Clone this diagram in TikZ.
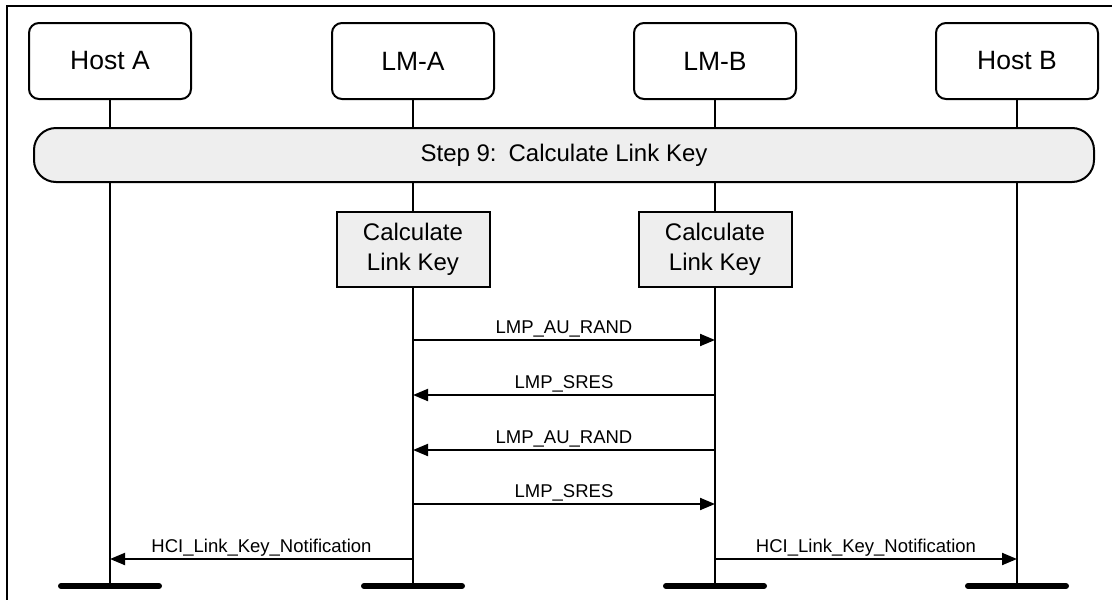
\documentclass[tikz,border=0pt]{standalone}
\usepackage{fontspec}
\setmainfont{Liberation Sans}
\usetikzlibrary{arrows.meta}
\definecolor{boxgray}{HTML}{EEEEEE}
\begin{document}
\begin{tikzpicture}[x=1pt,y=-1pt,line width=2pt,
  actor/.style={draw,rounded corners=10pt,minimum width=162pt,minimum height=76pt,inner sep=0pt,font=\fontsize{26.5}{30}\selectfont},
  calcbox/.style={draw,fill=boxgray,minimum width=153pt,minimum height=75pt,inner sep=0pt,align=center,font=\fontsize{24}{30}\selectfont},
  stepbar/.style={draw,fill=boxgray,rounded corners=22pt,minimum width=1060pt,minimum height=54pt,inner sep=0pt,font=\fontsize{24}{28}\selectfont},
  lifeline/.style={line width=2pt},
  msg/.style={line width=2pt,-{Triangle[length=15pt,width=12pt]}},
  lbl/.style={anchor=base,yshift=7pt,inner sep=0pt,font=\fontsize{18.5}{20}\selectfont},
  endbar/.style={line width=6pt,line cap=round}]
\useasboundingbox (0,0) rectangle (1112,600);
\fill[white] (0,0) rectangle (1112,600);
% frame
\draw[line width=2pt] (1112,6) -- (7,6) -- (7,600);
% actors
\node[actor] (hA) at (110,61) {Host A};
\node[actor] (lA) at (413,61) {LM-A};
\node[actor] (lB) at (715,61) {LM-B};
\node[actor] (hB) at (1017,61) {Host B};
% lifeline ends
\coordinate (eA) at (110,586);
\coordinate (eLA) at (413,586);
\coordinate (eLB) at (715,586);
\coordinate (eB) at (1017,586);
\draw[lifeline] (hA.south) -- (eA);
\draw[lifeline] (lA.south) -- (eLA);
\draw[lifeline] (lB.south) -- (eLB);
\draw[lifeline] (hB.south) -- (eB);
% step bar
\node[stepbar] (step) at (564,155) {Step 9:\hspace{0.5em}Calculate Link Key};
% calc boxes
\node[calcbox] (cA) at (413,249.5) {Calculate\\Link Key};
\node[calcbox] (cB) at (715,249.5) {Calculate\\Link Key};
% message points
\coordinate (a1) at (413,340); \coordinate (b1) at (715,340);
\coordinate (a2) at (413,395); \coordinate (b2) at (715,395);
\coordinate (a3) at (413,450); \coordinate (b3) at (715,450);
\coordinate (a4) at (413,504); \coordinate (b4) at (715,504);
\coordinate (h5) at (110,559); \coordinate (a5) at (413,559);
\coordinate (b5) at (715,559); \coordinate (g5) at (1017,559);
\draw[msg] (a1) -- node[lbl]{LMP\_AU\_RAND} (b1);
\draw[msg] (b2) -- node[lbl]{LMP\_SRES} (a2);
\draw[msg] (b3) -- node[lbl]{LMP\_AU\_RAND} (a3);
\draw[msg] (a4) -- node[lbl]{LMP\_SRES} (b4);
\draw[msg] (a5) -- node[lbl]{HCI\_Link\_Key\_Notification} (h5);
\draw[msg] (b5) -- node[lbl]{HCI\_Link\_Key\_Notification} (g5);
% end bars
\draw[endbar] (eA) ++(-49,0) -- ++(98,0);
\draw[endbar] (eLA) ++(-49,0) -- ++(98,0);
\draw[endbar] (eLB) ++(-49,0) -- ++(98,0);
\draw[endbar] (eB) ++(-49,0) -- ++(98,0);
\end{tikzpicture}
\end{document}
